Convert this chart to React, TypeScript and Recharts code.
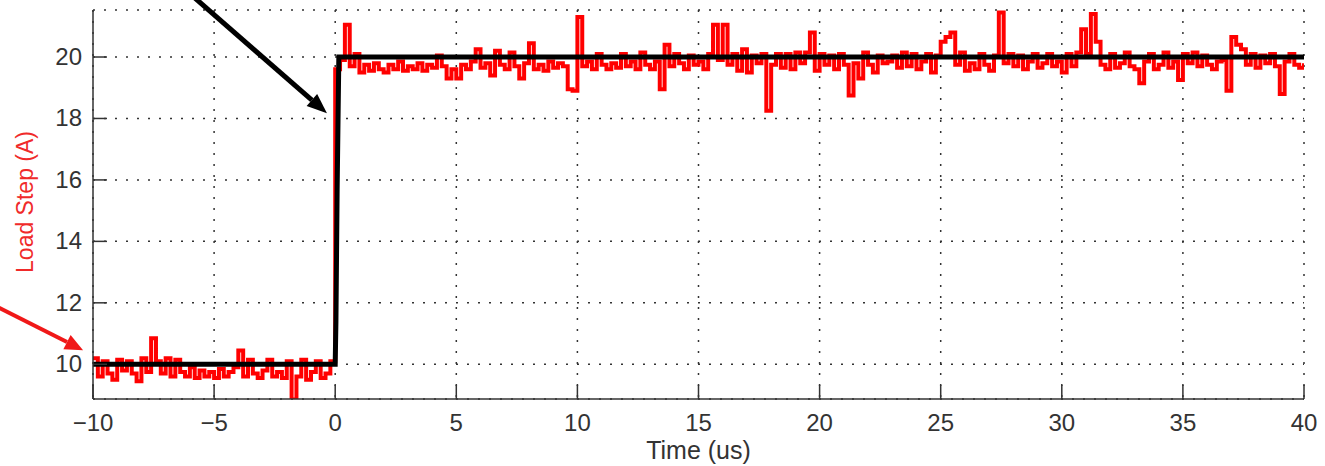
import { LineChart, Line, XAxis, YAxis, CartesianGrid, ReferenceLine } from 'recharts'

// axis ticks
const xTicks = [-10, -5, 0, 5, 10, 15, 20, 25, 30, 35, 40]
const yTicks = [10, 12, 14, 16, 18, 20]

// measured load current (A), one sample every 0.2 us
const sampleStep = 0.2
const redBefore = [
  10.2, 9.6, 10.1, 9.7, 9.5, 10.15, 9.8, 10.1, 9.7, 9.45,
  10.2, 9.75, 10.85, 10.1, 9.7, 10.2, 9.6, 10.15, 9.75, 9.6,
  9.9, 9.55, 9.8, 9.6, 9.75, 9.55, 9.85, 9.6, 9.75, 9.9,
  10.45, 9.6, 10.15, 9.7, 9.55, 9.8, 10.15, 9.6, 9.75, 9.55,
  10.1, 8.85, 9.6, 10.15, 9.5, 9.75, 10.1, 9.55, 9.7, 10.1,
]
const redAfter = [
  19.6, 19.9, 21.05, 19.7, 20.1, 19.5, 19.75, 19.55, 19.8, 19.6,
  19.5, 19.75, 19.6, 19.85, 19.55, 19.7, 19.6, 19.8, 19.55, 19.75,
  19.65, 20.05, 19.7, 19.3, 19.6, 19.3, 19.75, 19.6, 19.85, 20.25,
  19.65, 19.8, 19.4, 20.2, 19.75, 19.6, 20.15, 19.7, 19.3, 19.8,
  20.45, 19.6, 19.75, 19.55, 19.85, 19.65, 19.8, 19.7, 18.95, 18.9,
  21.3, 19.7, 19.85, 19.6, 20.1, 19.75, 19.6, 19.8, 19.65, 20.1,
  19.7, 19.85, 19.6, 20.15, 19.75, 19.6, 19.85, 18.95, 20.4, 19.7,
  20.1, 19.8, 19.6, 20.05, 19.75, 19.85, 19.6, 20.1, 21.05, 19.9,
  21.05, 19.75, 20.1, 19.55, 20.25, 19.5, 20.05, 19.8, 20.1, 18.25,
  19.75, 20.1, 19.65, 20.1, 19.6, 20.15, 19.8, 20.15, 20.8, 19.55,
  20.1, 19.75, 20.05, 19.6, 20.1, 19.75, 18.75, 19.8, 19.3, 20.15,
  19.75, 19.5, 20.05, 19.8, 19.85, 20.05, 19.65, 20.15, 19.7, 20.1,
  19.6, 19.85, 20.1, 19.5, 20.05, 20.5, 20.65, 20.8, 19.75, 20.15,
  19.55, 19.8, 19.6, 20.1, 19.75, 19.55, 20.05, 21.45, 19.8, 20.1,
  19.7, 20.05, 19.6, 19.85, 20.1, 19.65, 19.8, 20.1, 19.7, 19.85,
  19.5, 20.1, 19.7, 20.15, 20.9, 20.1, 21.4, 20.5, 19.75, 19.6,
  20.1, 19.65, 19.8, 20.15, 19.7, 19.6, 19.15, 19.85, 20.1, 19.6,
  19.75, 20.15, 19.65, 19.85, 19.25, 20.1, 19.8, 20.15, 19.7, 20.05,
  19.75, 19.6, 19.85, 19.9, 18.9, 20.65, 20.4, 20.25, 19.75, 20.1,
  19.65, 20.05, 19.8, 20.1, 19.7, 18.8, 19.85, 20.1, 19.75, 19.65,
  19.8,
]

// commanded load step
const stepTimes = [-10, 0, 0.03, 0.08, 0.15, 40]
const stepValues = [10, 10, 11.4, 15.7, 20, 20]

// annotation arrows (data coords, they run past the axes)
const blackArrow = [{ x: -6.2, y: 22.2 }, { x: -0.34, y: 18.17 }]
const redArrow = [{ x: -14.05, y: 11.91 }, { x: -10.41, y: 10.46 }]

const round2 = (n: number) => Math.round(n * 100) / 100
const redData = [
  ...redBefore.map((v, i) => ({ t: round2(-10 + i * sampleStep), v })),
  ...redAfter.map((v, i) => ({ t: round2(i * sampleStep), v })),
]
const blackData = stepTimes.map((t, i) => ({ t, v: stepValues[i] }))

const font = '"Liberation Sans", Arial, Helvetica, sans-serif'
const axisColor = '#333'
const fmt = (v: number) => (v < 0 ? `\u2212${Math.abs(v)}` : `${v}`)

// matlab style: tick marks point into the plot
function XTick(props: any) {
  const { x, y, payload } = props
  return (
    <g>
      <line x1={x} y1={y} x2={x} y2={y - 14} stroke={axisColor} strokeWidth={1.5} />
      <text x={x} y={y + 32} textAnchor="middle" fill={axisColor} fontSize={24} fontFamily={font}>
        {fmt(payload.value)}
      </text>
    </g>
  )
}

function YTick(props: any) {
  const { x, y, payload } = props
  return (
    <g>
      <line x1={x} y1={y} x2={x + 14} y2={y} stroke={axisColor} strokeWidth={1.5} />
      <text x={x - 11} y={y + 8} textAnchor="end" fill={axisColor} fontSize={24} fontFamily={font}>
        {fmt(payload.value)}
      </text>
    </g>
  )
}

function Arrow(props: any) {
  const { x1, y1, x2, y2, color, width, head, half } = props
  const dx = x2 - x1
  const dy = y2 - y1
  const len = Math.hypot(dx, dy) || 1
  const ux = dx / len
  const uy = dy / len
  const bx = x2 - ux * head
  const by = y2 - uy * head
  return (
    <g>
      <line x1={x1} y1={y1} x2={bx} y2={by} stroke={color} strokeWidth={width} />
      <polygon
        points={`${x2},${y2} ${bx - uy * half},${by + ux * half} ${bx + uy * half},${by - ux * half}`}
        fill={color}
      />
    </g>
  )
}

function YLabel() {
  const x = 25
  const y = 202
  return (
    <text x={x} y={y} transform={`rotate(-90, ${x}, ${y})`} textAnchor="middle" dominantBaseline="central"
      fill="#f02a2a" fontSize={23} fontFamily={font}>
      Load Step (A)
    </text>
  )
}

function XLabel(props: any) {
  const vb = props.viewBox
  return (
    <text x={vb.x + vb.width / 2} y={vb.y + 60} textAnchor="middle" fill={axisColor} fontSize={25} fontFamily={font}>
      Time (us)
    </text>
  )
}

export default function App() {
  return (
    <div style={{ position: 'absolute', left: 0, top: 0, background: '#fff' }}>
      <LineChart width={1325} height={466} margin={{ top: 10, right: 21, left: 0, bottom: 0 }}>
        <CartesianGrid stroke="#333" strokeDasharray="2 9" strokeWidth={1.5} />
        <XAxis
          type="number" dataKey="t" domain={[-10, 40]} ticks={xTicks} allowDataOverflow
          height={67} interval={0}
          axisLine={{ stroke: axisColor, strokeWidth: 1.5 }}
          tickLine={false} tickSize={0} tickMargin={0}
          tick={<XTick />}
          label={<XLabel />}
        />
        <YAxis
          type="number" domain={[8.87, 21.53]} ticks={yTicks} allowDataOverflow
          width={93} interval={0}
          axisLine={{ stroke: axisColor, strokeWidth: 1.5 }}
          tickLine={false} tickSize={0} tickMargin={0}
          tick={<YTick />}
          label={<YLabel />}
        />
        <Line data={redData} dataKey="v" type="stepAfter" stroke="#ff0000" strokeWidth={4}
          dot={false} isAnimationActive={false} />
        <Line data={blackData} dataKey="v" type="linear" stroke="#000" strokeWidth={5}
          dot={false} isAnimationActive={false} />
        <ReferenceLine segment={blackArrow} ifOverflow="visible"
          shape={(p: any) => <Arrow {...p} color="#000" width={5} head={20} half={8} />} />
        <ReferenceLine segment={redArrow} ifOverflow="visible"
          shape={(p: any) => <Arrow {...p} color="#f01818" width={4} head={18} half={8} />} />
      </LineChart>
    </div>
  )
}
